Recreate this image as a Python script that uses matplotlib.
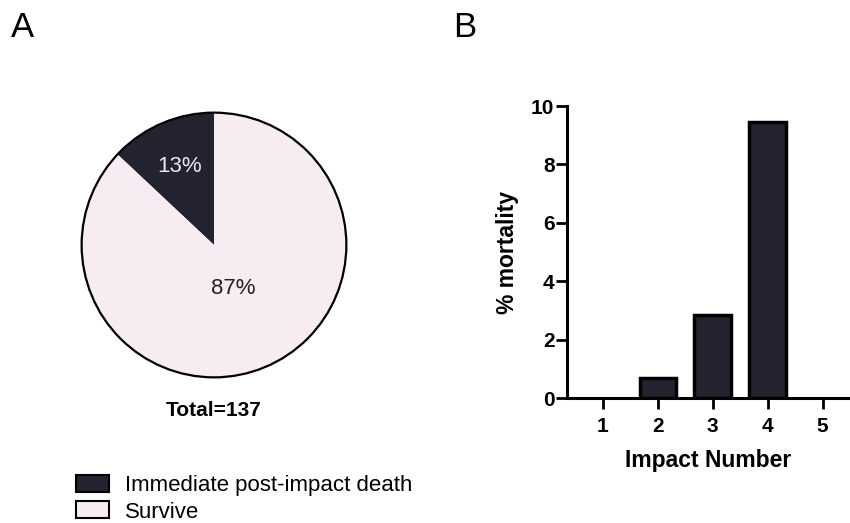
import numpy as np
import matplotlib.pyplot as plt
from matplotlib.patches import Patch, Circle

plt.rcParams['font.family'] = ['Liberation Sans', 'DejaVu Sans']

# pie data
pie_labels = ['Immediate post-impact death', 'Survive']
pie_pct = [13, 87]
total = 137

# bar data
impact = [1, 2, 3, 4, 5]
mortality = [0, 0.68, 2.85, 9.45, 0]

dark = '#23232f'
light = '#f6ecf1'

fig = plt.figure(figsize=(8.5, 5.23), dpi=100)

# --- A: pie ---
ax1 = fig.add_axes([79 / 850, 1 - 380 / 523, 270 / 850, 270 / 523])
wedges, _ = ax1.pie(pie_pct, colors=[dark, light], startangle=90,
                    counterclock=True, radius=1,
                    wedgeprops=dict(linewidth=0))
ax1.add_patch(Circle((0, 0), 1, fill=False, edgecolor='black', linewidth=1.6))
ax1.set_xlim(-1.02, 1.02)
ax1.set_ylim(-1.02, 1.02)
ax1.set_aspect('equal')
ax1.axis('off')

label_r = [0.65, 0.36]
label_col = ['#e8e8ee', '#222222']
for w, p, r, c in zip(wedges, pie_pct, label_r, label_col):
    ang = np.deg2rad((w.theta1 + w.theta2) / 2)
    ax1.text(r * np.cos(ang), r * np.sin(ang), f'{p}%', ha='center', va='center',
             fontsize=16, color=c)

fig.text(214 / 850, 1 - 410 / 523, f'Total={total}', ha='center', va='center',
         fontsize=15, fontweight='bold')

handles = [Patch(facecolor=dark, edgecolor='black', linewidth=1.5),
           Patch(facecolor=light, edgecolor='black', linewidth=1.5)]
fig.legend(handles, pie_labels, loc='upper left', bbox_to_anchor=(76 / 850, 1 - 475 / 523),
           frameon=False, fontsize=16, handlelength=1.5, handleheight=0.8,
           handletextpad=0.72, labelspacing=0.23, borderpad=0, borderaxespad=0)

# --- B: bar ---
ax2 = fig.add_axes([567 / 850, 1 - 398 / 523, (850 - 567) / 850, (398 - 106) / 523])
lw = [0 if v == 0 else 2.5 for v in mortality]
ax2.bar(impact, mortality, width=0.66, color=dark, edgecolor='black', linewidth=lw)
ax2.set_xlim(0.35, 5.5)
ax2.set_ylim(0, 10)
ax2.set_xticks(impact)
ax2.set_yticks([0, 2, 4, 6, 8, 10])
ax2.spines['top'].set_visible(False)
ax2.spines['right'].set_visible(False)
for s in ['left', 'bottom']:
    ax2.spines[s].set_linewidth(2.2)
    ax2.spines[s].set_zorder(5)
ax2.tick_params(width=2, length=8, labelsize=15)
ax2.tick_params(axis='x', pad=6)
ax2.tick_params(axis='y', pad=1)
for lab in ax2.get_xticklabels() + ax2.get_yticklabels():
    lab.set_fontweight('bold')
ax2.set_ylabel('% mortality', fontsize=16.5, fontweight='bold', labelpad=9)
ax2.set_xlabel('Impact Number', fontsize=16.5, fontweight='bold', labelpad=9)

fig.text(11 / 850, 1 - 37 / 523, 'A', fontsize=25, va='baseline')
fig.text(453 / 850, 1 - 37 / 523, 'B', fontsize=25, va='baseline')

fig.savefig('out.png', dpi=100)
